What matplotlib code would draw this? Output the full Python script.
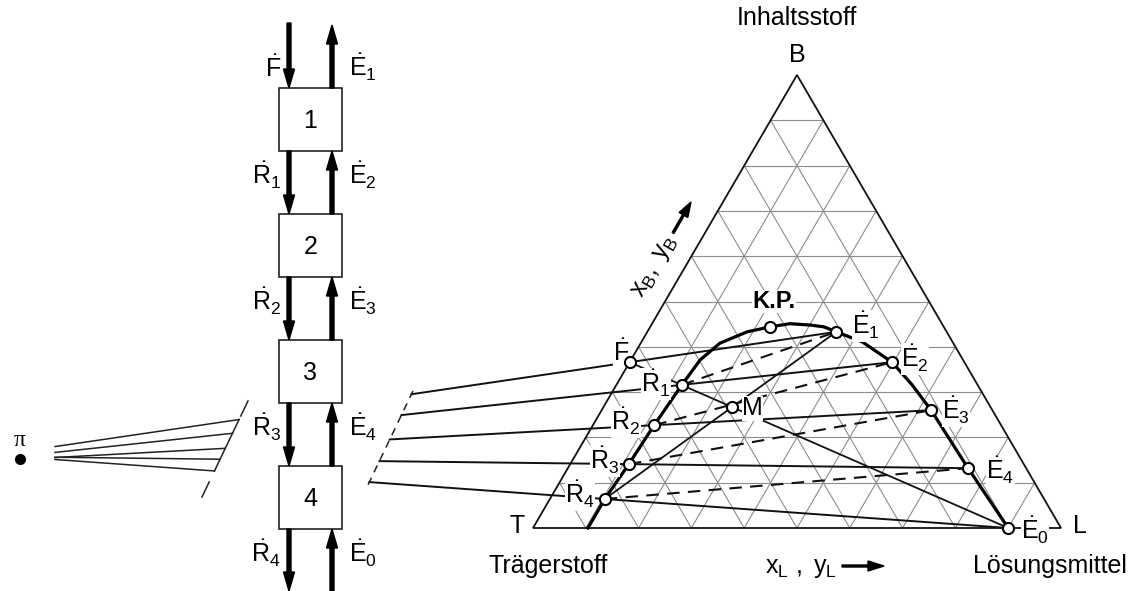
import numpy as np
import matplotlib.pyplot as plt
from matplotlib.patches import Rectangle, FancyArrow, Polygon

plt.rcParams['font.family'] = ['Liberation Sans', 'DejaVu Sans']
plt.rcParams['mathtext.fontset'] = 'custom'
plt.rcParams['mathtext.rm'] = 'Liberation Sans'
plt.rcParams['mathtext.it'] = 'Liberation Sans'
plt.rcParams['mathtext.bf'] = 'Liberation Sans:bold'

# --- data: compositions (x_B, x_L) ---
F_pt = (0.366, 0.0)
R_pts = [(0.316, 0.124), (0.227, 0.116), (0.141, 0.111), (0.064, 0.104)]            # R1..R4
E_pts = [(0.0, 0.900), (0.433, 0.358), (0.366, 0.497), (0.260, 0.624), (0.132, 0.758)]  # E0..E4
M_pt = (0.267, 0.243)
KP_pt = (0.444, 0.227)
binodal_xB = [0.0, 0.064, 0.141, 0.227, 0.316, 0.371, 0.408, 0.433, 0.444, 0.451,
              0.448, 0.444, 0.433, 0.411, 0.366, 0.316, 0.260, 0.132, 0.0]
binodal_xL = [0.104, 0.104, 0.111, 0.116, 0.124, 0.131, 0.150, 0.189, 0.227, 0.261,
              0.301, 0.329, 0.358, 0.418, 0.497, 0.560, 0.624, 0.758, 0.900]

stages = ['1', '2', '3', '4']
left_labels = [r'$\dot{\mathrm{F}}$', r'$\dot{\mathrm{R}}_1$', r'$\dot{\mathrm{R}}_2$',
               r'$\dot{\mathrm{R}}_3$', r'$\dot{\mathrm{R}}_4$']
right_labels = [r'$\dot{\mathrm{E}}_1$', r'$\dot{\mathrm{E}}_2$', r'$\dot{\mathrm{E}}_3$',
                r'$\dot{\mathrm{E}}_4$', r'$\dot{\mathrm{E}}_0$']

# --- layout (pixel coordinates) ---
T = (533, 528)
L = (1061, 528)
B = (797, 75)


def tp(c):
    xb, xl = c
    xt = 1 - xb - xl
    return np.array([xt * T[0] + xl * L[0] + xb * B[0],
                     xt * T[1] + xl * L[1] + xb * B[1]])


def intersect(a, c, p, d):
    # line a->c with line through p, direction d
    u = c - a
    m = np.array([[u[0], -d[0]], [u[1], -d[1]]])
    t, s = np.linalg.solve(m, p - a)
    return a + t * u


fig = plt.figure(figsize=(11.29, 5.91), dpi=100)
ax = fig.add_axes([0, 0, 1, 1])
ax.set_xlim(0, 1129)
ax.set_ylim(591, 0)
ax.axis('off')

FS = 18

# ---------------- cascade ----------------
box_x, box_w, box_h = 279, 63, 63
box_tops = [88, 214, 340, 466]
xl_arr, xr_arr = 289, 332
for i, top in enumerate(box_tops):
    ax.add_patch(Rectangle((box_x, top), box_w, box_h, fill=False, ec='#222', lw=1.2, zorder=3))
    ax.text(box_x + box_w / 2, top + box_h / 2 + 1, stages[i], ha='center', va='center', fontsize=FS)

ends = [23] + [t + box_h for t in box_tops]
starts = box_tops + [591]
arr_kw = dict(width=4, head_width=11, head_length=19, length_includes_head=True,
              color='black', zorder=4)
for i in range(5):
    y0, y1 = ends[i], starts[i]
    ax.add_patch(FancyArrow(xl_arr, y0, 0, y1 - y0, **arr_kw))
    ax.add_patch(FancyArrow(xr_arr, y1, 0, y0 - y1 + (2 if i == 0 else 0), **arr_kw))

label_base = [77, 185, 311, 437, 563]
for i in range(5):
    ax.text(281, label_base[i], left_labels[i], ha='right', va='baseline', fontsize=FS)
    ax.text(349, label_base[i], right_labels[i], ha='left', va='baseline', fontsize=FS)

# pole
ax.plot([20], [459], 'o', color='black', ms=7, zorder=5)
ax.text(20, 441, 'π', ha='center', va='center', fontsize=17, family='Liberation Serif')

# ---------------- ternary grid ----------------
grid_c = '#8c8c8c'
for i in range(1, 10):
    f = i / 10
    for p, q in [((f, 0), (f, 1 - f)), ((0, f), (1 - f, f)), ((0, 1 - f), (1 - f, 0))]:
        a, b = tp(p), tp(q)
        ax.plot([a[0], b[0]], [a[1], b[1]], color=grid_c, lw=0.8, zorder=1)
ax.add_patch(Polygon([T, L, B], closed=True, fill=False, ec='#111', lw=1.3, zorder=2))

# operating lines through the pole
F_px = tp(F_pt)
R_px = [tp(r) for r in R_pts]
E_px = [tp(e) for e in E_pts]
pairs = [(F_px, E_px[1]), (R_px[0], E_px[2]), (R_px[1], E_px[3]),
         (R_px[2], E_px[4]), (R_px[3], E_px[0])]
brk_dir = np.array([-45.0, 94.0])
brk_left = np.array([247.0, 403.0])
brk_right = np.array([412.0, 393.0])
left_ends = []
for a, c in pairs:
    y55 = a[1] + (55 - a[0]) * (c[1] - a[1]) / (c[0] - a[0])
    pl = intersect(a, c, brk_left, brk_dir)
    pr = intersect(a, c, brk_right, brk_dir)
    left_ends.append(pl)
    ax.plot([55, pl[0]], [y55, pl[1]], color='#222', lw=1.1, zorder=3)
    ax.plot([pr[0], c[0]], [pr[1], c[1]], color='#111', lw=1.4, zorder=3)


def on_brk(p0, y):
    return p0[0] + brk_dir[0] * (y - p0[1]) / brk_dir[1]


# break marks
for y0, y1 in [(401, 416), (left_ends[0][1], left_ends[-1][1]), (482, 497)]:
    ax.plot([on_brk(brk_left, y0), on_brk(brk_left, y1)], [y0, y1], color='#222', lw=1.1, zorder=3)
ax.plot([on_brk(brk_right, 391), on_brk(brk_right, 489)], [391, 489], color='#222',
        lw=1.1, ls=(0, (5, 4)), zorder=3)

# mixing lines through M
for a, c in [(F_px, E_px[0]), (R_px[3], E_px[1])]:
    ax.plot([a[0], c[0]], [a[1], c[1]], color='#111', lw=1.3, zorder=3)

# tie lines (dashed)
for k in range(4):
    a, c = R_px[k], E_px[k + 1]
    ax.plot([a[0], c[0]], [a[1], c[1]], color='#111', lw=1.5, ls=(0, (6, 4)), zorder=3)

# binodal
bx, by = zip(*[tp(p) for p in zip(binodal_xB, binodal_xL)])
ax.plot(bx, by, color='black', lw=2.3, zorder=4, solid_joinstyle='round')

# points
pts = [F_px] + R_px + E_px + [tp(M_pt), tp(KP_pt)]
ax.plot([p[0] for p in pts], [p[1] for p in pts], 'o', ms=8, mfc='white', mec='black',
        mew=1.5, zorder=8)

# labels in the diagram
bb = dict(fc='white', ec='none', pad=0.3)
tri_labels = [
    (613, 361, r'$\dot{\mathrm{F}}$'),
    (641, 393, r'$\dot{\mathrm{R}}_1$'), (611, 431, r'$\dot{\mathrm{R}}_2$'),
    (590, 470, r'$\dot{\mathrm{R}}_3$'), (565, 504, r'$\dot{\mathrm{R}}_4$'),
    (852, 335, r'$\dot{\mathrm{E}}_1$'), (901, 368, r'$\dot{\mathrm{E}}_2$'),
    (942, 420, r'$\dot{\mathrm{E}}_3$'), (986, 480, r'$\dot{\mathrm{E}}_4$'),
    (1021, 540, r'$\dot{\mathrm{E}}_0$'), (742, 415, 'M'),
]
for x, y, s in tri_labels:
    ax.text(x, y, s, ha='left', va='baseline', fontsize=FS, bbox=bb, zorder=6)
ax.text(752, 308, 'K.P.', ha='left', va='baseline', fontsize=FS - 1, fontweight='bold',
        bbox=bb, zorder=6)

ax.text(797, 18, 'Inhaltsstoff', ha='center', va='center', fontsize=FS)
ax.text(797, 55, 'B', ha='center', va='center', fontsize=FS)
ax.text(517, 526, 'T', ha='center', va='center', fontsize=FS)
ax.text(1080, 526, 'L', ha='center', va='center', fontsize=FS)
ax.text(548, 566, 'Trägerstoff', ha='center', va='center', fontsize=FS)
ax.text(1050, 566, 'Lösungsmittel', ha='center', va='center', fontsize=FS)
ax.text(837, 568, r'$\mathrm{x_L\ ,\ y_L}$', ha='right', va='center', fontsize=FS)
ax.add_patch(FancyArrow(842, 566, 42, 0, width=2, head_width=10, head_length=16,
                        length_includes_head=True, color='black'))
ax.text(655, 266, r'$\mathrm{x_B,\ y_B}$', ha='center', va='center', fontsize=FS,
        rotation=60, rotation_mode='anchor')
ax.add_patch(FancyArrow(673, 233, 18, -31, width=2, head_width=10, head_length=15,
                        length_includes_head=True, color='black'))

fig.savefig('out.png', dpi=100)
